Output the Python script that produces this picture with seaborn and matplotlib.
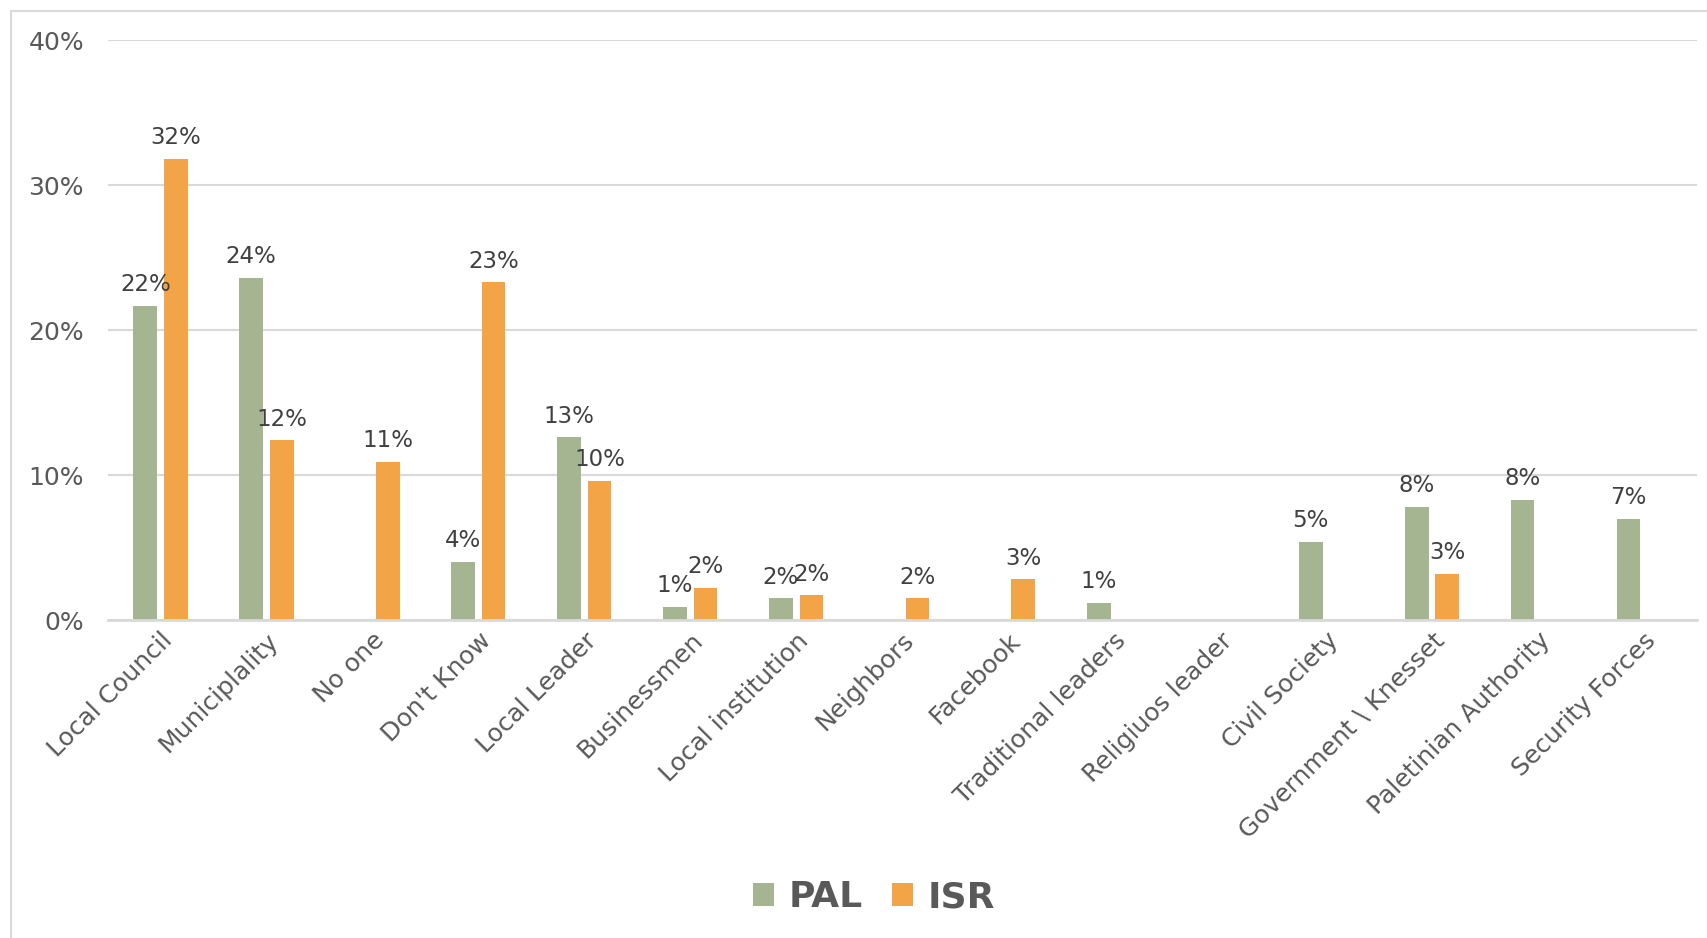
import numpy as np
import pandas as pd
import seaborn as sns
import matplotlib.pyplot as plt
from matplotlib.patches import Rectangle
from matplotlib.ticker import PercentFormatter

# data (percent)
categories = ["Local Council", "Municiplality", "No one", "Don't Know", "Local Leader",
              "Businessmen", "Local institution", "Neighbors", "Facebook",
              "Traditional leaders", "Religiuos leader", "Civil Society",
              "Government \\ Knesset", "Paletinian Authority", "Security Forces"]
pal = [21.7, 23.6, 0, 4.0, 12.6, 0.9, 1.5, 0, 0, 1.2, 0, 5.4, 7.8, 8.3, 7.0]
isr = [31.8, 12.4, 10.9, 23.3, 9.6, 2.2, 1.7, 1.5, 2.8, 0, 0, 0, 3.2, 0, 0]
groups = ["PAL", "ISR"]
colors = ["#A5B592", "#F3A447"]

df = pd.DataFrame({"cat": categories * 2,
                   "val": pal + isr,
                   "grp": ["PAL"] * len(pal) + ["ISR"] * len(isr)})

sns.set_style("white")
plt.rcParams["font.family"] = ["DejaVu Sans"]

fig = plt.figure(figsize=(17.07, 9.38), dpi=100)
ax = fig.add_axes([0.063, 0.339, 0.931, 0.618])

sns.barplot(data=df, x="cat", y="val", hue="grp", hue_order=groups,
            palette=colors, saturation=1, width=0.575, gap=0.22,
            linewidth=0, ax=ax)

# data labels, skip empty bars
for cont, vals in zip(ax.containers, [pal, isr]):
    labs = [f"{v:.0f}%" if v > 0 else "" for v in vals]
    ax.bar_label(cont, labels=labs, padding=7, fontsize=16.5, color="#404040")

ax.set_ylim(0, 40)
ax.set_xlim(-0.5, len(categories) - 0.5)
ax.set_yticks([0, 10, 20, 30, 40])
ax.yaxis.set_major_formatter(PercentFormatter(decimals=0))
ax.grid(axis="y", color="#D9D9D9", linewidth=1.5)
ax.set_axisbelow(True)
for s in ["top", "right", "left"]:
    ax.spines[s].set_visible(False)
ax.spines["bottom"].set_color("#D9D9D9")
ax.spines["bottom"].set_linewidth(2)
ax.tick_params(axis="y", length=0, pad=17, labelsize=18, labelcolor="#595959")
ax.tick_params(axis="x", length=0, pad=6, labelsize=18, labelcolor="#595959")
plt.setp(ax.get_xticklabels(), rotation=45, ha="right", rotation_mode="anchor")
ax.set_xlabel("")
ax.set_ylabel("")

leg = ax.legend(loc="center", bbox_to_anchor=(874 / 1707, 1 - 897 / 938),
                bbox_transform=fig.transFigure, ncol=2, frameon=False,
                handlelength=0.6, handleheight=0.6, handletextpad=0.4,
                columnspacing=0.8, prop={"size": 26, "weight": "bold"})
for t in leg.get_texts():
    t.set_color("#595959")

# outer chart border (top and left visible)
fig.patches.append(Rectangle((11 / 1707, -0.1), 1.2, 1.1 - 11 / 938,
                             transform=fig.transFigure, fill=False,
                             edgecolor="#D9D9D9", linewidth=1.5))

fig.savefig("out.png", dpi=100)
